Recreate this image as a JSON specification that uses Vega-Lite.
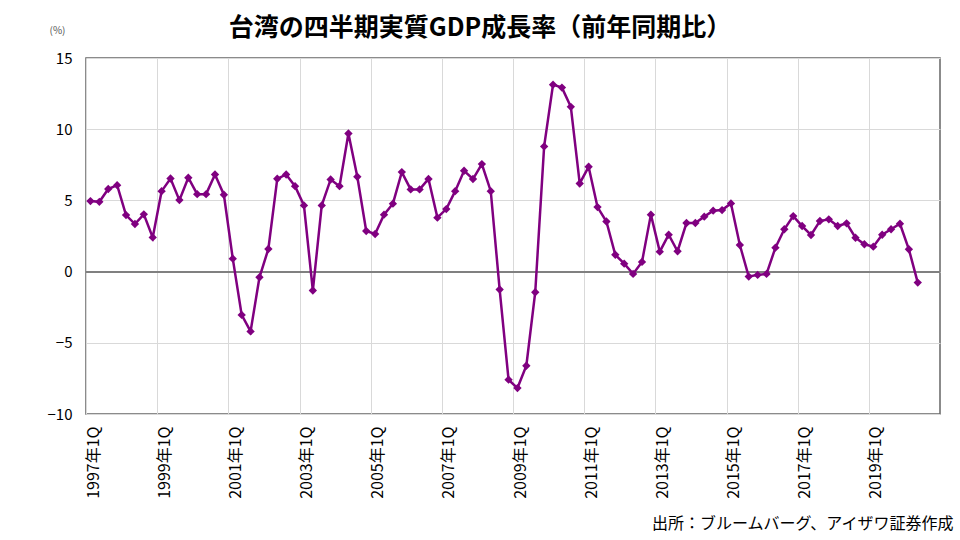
{
  "$schema": "https://vega.github.io/schema/vega-lite/v6.json",
  "autosize": {"type": "none"},
  "padding": {"left": 86, "top": 58, "right": 20, "bottom": 126},
  "width": 854,
  "height": 356,
  "background": "white",
  "title": {
    "text": "台湾の四半期実質GDP成長率（前年同期比）",
    "font": "Noto Sans CJK JP",
    "fontSize": 25,
    "fontWeight": "bold",
    "color": "#000000",
    "anchor": "middle",
    "frame": "group",
    "dx": -33,
    "offset": -16
  },
  "data": {
    "values": [
      {"t": 0, "period": "1997Q1", "growth": 4.95},
      {"t": 1, "period": "1997Q2", "growth": 4.9},
      {"t": 2, "period": "1997Q3", "growth": 5.8},
      {"t": 3, "period": "1997Q4", "growth": 6.07},
      {"t": 4, "period": "1998Q1", "growth": 3.97},
      {"t": 5, "period": "1998Q2", "growth": 3.34},
      {"t": 6, "period": "1998Q3", "growth": 4.02},
      {"t": 7, "period": "1998Q4", "growth": 2.4},
      {"t": 8, "period": "1999Q1", "growth": 5.65},
      {"t": 9, "period": "1999Q2", "growth": 6.54},
      {"t": 10, "period": "1999Q3", "growth": 5.02},
      {"t": 11, "period": "1999Q4", "growth": 6.59},
      {"t": 12, "period": "2000Q1", "growth": 5.44},
      {"t": 13, "period": "2000Q2", "growth": 5.44},
      {"t": 14, "period": "2000Q3", "growth": 6.82},
      {"t": 15, "period": "2000Q4", "growth": 5.4},
      {"t": 16, "period": "2001Q1", "growth": 0.91},
      {"t": 17, "period": "2001Q2", "growth": -3.04},
      {"t": 18, "period": "2001Q3", "growth": -4.2},
      {"t": 19, "period": "2001Q4", "growth": -0.4},
      {"t": 20, "period": "2002Q1", "growth": 1.59},
      {"t": 21, "period": "2002Q2", "growth": 6.52},
      {"t": 22, "period": "2002Q3", "growth": 6.82},
      {"t": 23, "period": "2002Q4", "growth": 6.0},
      {"t": 24, "period": "2003Q1", "growth": 4.65},
      {"t": 25, "period": "2003Q2", "growth": -1.33},
      {"t": 26, "period": "2003Q3", "growth": 4.65},
      {"t": 27, "period": "2003Q4", "growth": 6.47},
      {"t": 28, "period": "2004Q1", "growth": 6.0},
      {"t": 29, "period": "2004Q2", "growth": 9.7},
      {"t": 30, "period": "2004Q3", "growth": 6.66},
      {"t": 31, "period": "2004Q4", "growth": 2.85},
      {"t": 32, "period": "2005Q1", "growth": 2.64},
      {"t": 33, "period": "2005Q2", "growth": 4.0},
      {"t": 34, "period": "2005Q3", "growth": 4.77},
      {"t": 35, "period": "2005Q4", "growth": 6.99},
      {"t": 36, "period": "2006Q1", "growth": 5.77},
      {"t": 37, "period": "2006Q2", "growth": 5.77},
      {"t": 38, "period": "2006Q3", "growth": 6.5},
      {"t": 39, "period": "2006Q4", "growth": 3.79},
      {"t": 40, "period": "2007Q1", "growth": 4.39},
      {"t": 41, "period": "2007Q2", "growth": 5.65},
      {"t": 42, "period": "2007Q3", "growth": 7.08},
      {"t": 43, "period": "2007Q4", "growth": 6.5},
      {"t": 44, "period": "2008Q1", "growth": 7.55},
      {"t": 45, "period": "2008Q2", "growth": 5.65},
      {"t": 46, "period": "2008Q3", "growth": -1.26},
      {"t": 47, "period": "2008Q4", "growth": -7.59},
      {"t": 48, "period": "2009Q1", "growth": -8.18},
      {"t": 49, "period": "2009Q2", "growth": -6.61},
      {"t": 50, "period": "2009Q3", "growth": -1.45},
      {"t": 51, "period": "2009Q4", "growth": 8.79},
      {"t": 52, "period": "2010Q1", "growth": 13.13},
      {"t": 53, "period": "2010Q2", "growth": 12.92},
      {"t": 54, "period": "2010Q3", "growth": 11.57},
      {"t": 55, "period": "2010Q4", "growth": 6.19},
      {"t": 56, "period": "2011Q1", "growth": 7.36},
      {"t": 57, "period": "2011Q2", "growth": 4.53},
      {"t": 58, "period": "2011Q3", "growth": 3.52},
      {"t": 59, "period": "2011Q4", "growth": 1.18},
      {"t": 60, "period": "2012Q1", "growth": 0.56},
      {"t": 61, "period": "2012Q2", "growth": -0.16},
      {"t": 62, "period": "2012Q3", "growth": 0.68},
      {"t": 63, "period": "2012Q4", "growth": 4.0},
      {"t": 64, "period": "2013Q1", "growth": 1.4},
      {"t": 65, "period": "2013Q2", "growth": 2.59},
      {"t": 66, "period": "2013Q3", "growth": 1.43},
      {"t": 67, "period": "2013Q4", "growth": 3.41},
      {"t": 68, "period": "2014Q1", "growth": 3.41},
      {"t": 69, "period": "2014Q2", "growth": 3.86},
      {"t": 70, "period": "2014Q3", "growth": 4.28},
      {"t": 71, "period": "2014Q4", "growth": 4.32},
      {"t": 72, "period": "2015Q1", "growth": 4.79},
      {"t": 73, "period": "2015Q2", "growth": 1.87},
      {"t": 74, "period": "2015Q3", "growth": -0.35},
      {"t": 75, "period": "2015Q4", "growth": -0.23},
      {"t": 76, "period": "2016Q1", "growth": -0.16},
      {"t": 77, "period": "2016Q2", "growth": 1.68},
      {"t": 78, "period": "2016Q3", "growth": 2.97},
      {"t": 79, "period": "2016Q4", "growth": 3.9},
      {"t": 80, "period": "2017Q1", "growth": 3.2},
      {"t": 81, "period": "2017Q2", "growth": 2.57},
      {"t": 82, "period": "2017Q3", "growth": 3.55},
      {"t": 83, "period": "2017Q4", "growth": 3.67},
      {"t": 84, "period": "2018Q1", "growth": 3.2},
      {"t": 85, "period": "2018Q2", "growth": 3.39},
      {"t": 86, "period": "2018Q3", "growth": 2.38},
      {"t": 87, "period": "2018Q4", "growth": 1.92},
      {"t": 88, "period": "2019Q1", "growth": 1.75},
      {"t": 89, "period": "2019Q2", "growth": 2.59},
      {"t": 90, "period": "2019Q3", "growth": 2.97},
      {"t": 91, "period": "2019Q4", "growth": 3.36},
      {"t": 92, "period": "2020Q1", "growth": 1.57},
      {"t": 93, "period": "2020Q2", "growth": -0.77}
    ]
  },
  "encoding": {
    "x": {
      "field": "t",
      "type": "quantitative",
      "scale": {"domain": [-0.5, 95.5], "nice": false, "zero": false},
      "axis": {
        "values": [-0.5, 7.5, 15.5, 23.5, 31.5, 39.5, 47.5, 55.5, 63.5, 71.5, 79.5, 87.5],
        "labelExpr": "(1997 + floor((datum.value + 0.5) / 4)) + '年1Q'",
        "labelAngle": -90,
        "labelOffset": 7,
        "labelPadding": 12,
        "labelFontSize": 16,
        "labelFont": "Noto Sans CJK JP",
        "labelColor": "#000000",
        "ticks": false,
        "domain": false,
        "grid": true,
        "gridColor": "#d9d9d9",
        "title": "出所：ブルームバーグ、アイザワ証券作成",
        "titleFont": "Noto Sans CJK JP",
        "titleFontSize": 16,
        "titleFontWeight": "normal",
        "titleColor": "#000000",
        "titleAlign": "right",
        "titleBaseline": "middle",
        "titleAnchor": "end",
        "titleX": 867,
        "titleY": 109
      }
    },
    "y": {
      "field": "growth",
      "type": "quantitative",
      "scale": {"domain": [-10, 15], "nice": false},
      "axis": {
        "values": [-10, -5, 0, 5, 10, 15],
        "labelFontSize": 15,
        "labelFont": "Noto Sans CJK JP",
        "labelColor": "#000000",
        "labelPadding": 14,
        "ticks": false,
        "domain": false,
        "grid": true,
        "gridColor": "#d9d9d9",
        "title": "(%)",
        "titleFont": "Noto Sans CJK JP",
        "titleFontSize": 10,
        "titleFontWeight": "normal",
        "titleColor": "#555555",
        "titleAngle": 0,
        "titleAlign": "center",
        "titleBaseline": "middle",
        "titleX": -29,
        "titleY": -28
      }
    }
  },
  "layer": [
    {
      "mark": {"type": "rule", "color": "#808080", "strokeWidth": 1},
      "encoding": {"x": null, "y": {"datum": 0}}
    },
    {
      "mark": {
        "type": "line",
        "color": "#800080",
        "strokeWidth": 2.5,
        "point": {"shape": "diamond", "size": 70, "filled": true, "color": "#800080"}
      },
      "encoding": {
        "tooltip": [
          {"field": "period", "type": "nominal", "title": "期間"},
          {"field": "growth", "type": "quantitative", "title": "成長率(%)"}
        ]
      }
    }
  ],
  "config": {
    "view": {"stroke": "#666666", "strokeWidth": 1.5}
  }
}
